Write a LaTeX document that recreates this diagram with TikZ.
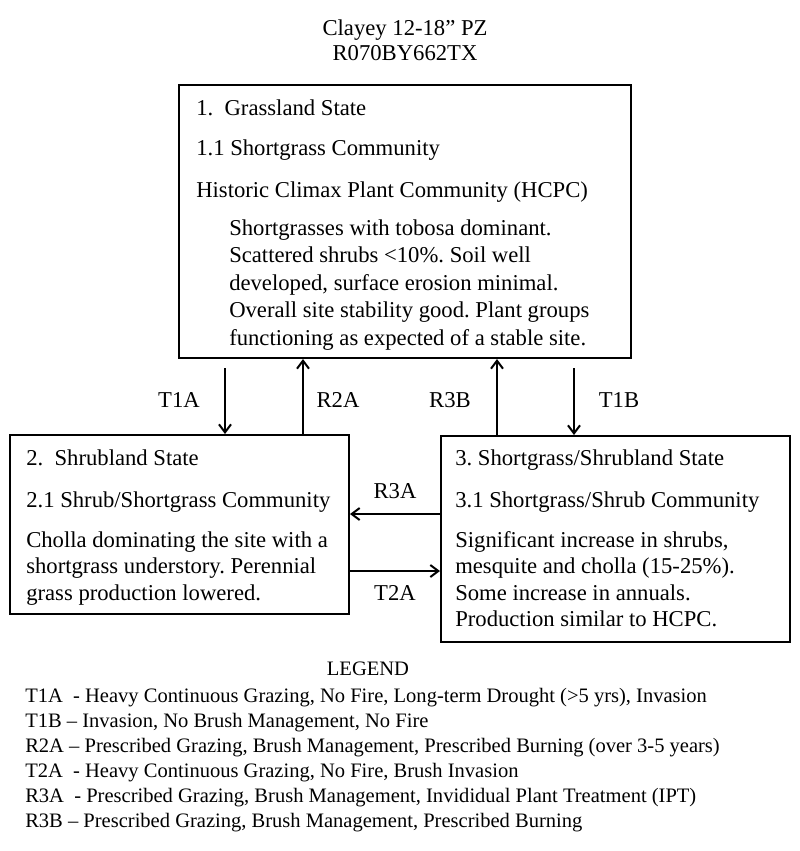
\documentclass[tikz,border=0pt]{standalone}
\usepackage{fontspec}
\setmainfont{Liberation Serif}
\usepackage{tikz}
\usetikzlibrary{arrows.meta, calc, positioning}
\frenchspacing
\tikzstyle{state} = [rectangle, line width=1.5pt, draw=black, inner sep=0pt]
\tikzstyle{line} = [anchor=base west, inner sep=0pt, font=\fontsize{17}{20}\selectfont]
\tikzstyle{tag} = [anchor=base, inner sep=0pt, font=\fontsize{17}{20}\selectfont]
\tikzstyle{legend} = [anchor=base west, inner sep=0pt, font=\fontsize{15.4}{18}\selectfont]
\tikzstyle{arrow} = [line width=1.5pt, -{Straight Barb[length=6pt, width=9pt]}]

\begin{document}
\begin{tikzpicture}[x=0.75pt, y=-0.75pt]
		\useasboundingbox (0,0) rectangle (800,851);
		% title
		\node (Title) [tag] at (405,35) {Clayey 12-18” PZ};
		\node (Code) [tag] at (405,60) {R070BY662TX};
		% states
		\node (Grassland) [state, minimum width=339pt, minimum height=204.75pt] at (405,221.5) {};
		\node (Shrubland) [state, minimum width=254.25pt, minimum height=134.25pt] at (179.5,524.5) {};
		\node (Mixed) [state, minimum width=261.75pt, minimum height=154.5pt] at (615.5,539) {};
		% state 1
		\node (G1) [line] at (196,115) {1.\ \ Grassland State};
		\node (G2) [line] at (196,155) {1.1 Shortgrass Community};
		\node (G3) [line] at (196,197) {Historic Climax Plant Community (HCPC)};
		\foreach \t [count=\i] in {{Shortgrasses with tobosa dominant.}, {Scattered shrubs <10\%. Soil well}, {developed, surface erosion minimal.}, {Overall site stability good. Plant groups}, {functioning as expected of a stable site.}}
			\node (GP\i) [line] at (229,207.5+27.5*\i) {\t};
		% state 2
		\node (S1) [line] at (26,465) {2.\ \ Shrubland State};
		\node (S2) [line] at (26,507) {2.1 Shrub/Shortgrass Community};
		\foreach \t [count=\i] in {{Cholla dominating the site with a}, {shortgrass understory. Perennial}, {grass production lowered.}}
			\node (SP\i) [line] at (26,520.5+26.5*\i) {\t};
		% state 3
		\node (M1) [line] at (455,465) {3. Shortgrass/Shrubland State};
		\node (M2) [line] at (455,507) {3.1 Shortgrass/Shrub Community};
		\foreach \t [count=\i] in {{Significant increase in shrubs,}, {mesquite and cholla (15-25\%).}, {Some increase in annuals.}, {Production similar to HCPC.}}
			\node (MP\i) [line] at (455,520.5+26.5*\i) {\t};
		% transitions
		\coordinate (t1a) at (225,368);
		\coordinate (r2a) at (303,0);
		\coordinate (r3b) at (497,0);
		\coordinate (t1b) at (574,368);
		\coordinate (r3a) at (0,514);
		\coordinate (t2a) at (0,571);
		\draw [arrow] (t1a) -- (t1a |- Shrubland.north);
		\draw [arrow] (r2a |- Shrubland.north) -- (r2a |- Grassland.south);
		\draw [arrow] (r3b |- Mixed.north) -- (r3b |- Grassland.south);
		\draw [arrow] (t1b) -- (t1b |- Mixed.north);
		\draw [arrow] (r3a -| Mixed.west) -- (r3a -| Shrubland.east);
		\draw [arrow] (t2a -| Shrubland.east) -- (t2a -| Mixed.west);
		\node (T1A) [tag] at (179,407) {T1A};
		\node (R2A) [tag] at (338,407) {R2A};
		\node (R3B) [tag] at (450,407) {R3B};
		\node (T1B) [tag] at (619,407) {T1B};
		\node (R3A) [tag] at (395,498) {R3A};
		\node (T2A) [tag] at (395,600) {T2A};
		% legend
		\node (Legend) [tag, font=\fontsize{15.4}{18}\selectfont] at (368,675) {LEGEND};
		\foreach \t [count=\i] in {{T1A\ \ - Heavy Continuous Grazing, No Fire, Long-term Drought (>5 yrs), Invasion}, {T1B – Invasion, No Brush Management, No Fire}, {R2A – Prescribed Grazing, Brush Management, Prescribed Burning (over 3-5 years)}, {T2A\ \ - Heavy Continuous Grazing, No Fire, Brush Invasion}, {R3A\ \ - Prescribed Grazing, Brush Management, Invididual Plant Treatment (IPT)}, {R3B – Prescribed Grazing, Brush Management, Prescribed Burning}}
			\node (L\i) [legend] at (25,677+25*\i) {\t};
	\end{tikzpicture}
\end{document}
